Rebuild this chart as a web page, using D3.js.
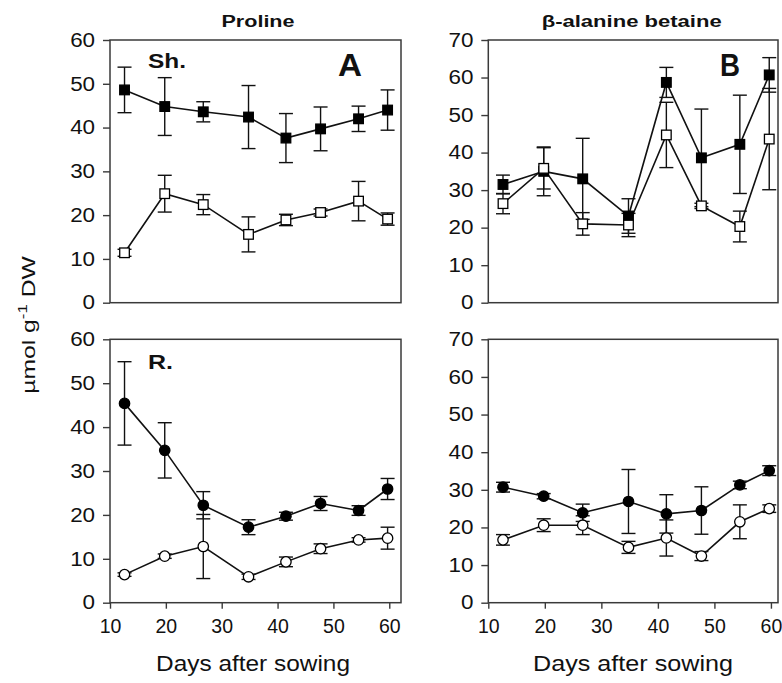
<!DOCTYPE html>
<html><head><meta charset="utf-8">
<script src="https://cdn.jsdelivr.net/npm/d3@7"></script>
<style>body{margin:0;background:#fff} svg{display:block}</style>
</head><body>
<svg id="c" width="782" height="683"></svg>
<script>
// ---- data ----
const days = [12.6, 19.8, 26.7, 34.8, 41.5, 47.7, 54.5, 59.7];
const dayTicks = [10, 20, 30, 40, 50, 60];
const prolineTicks = [0, 10, 20, 30, 40, 50, 60];
const betaineTicks = [0, 10, 20, 30, 40, 50, 60, 70];

const shootProlineFilled    = [48.6, 44.8, 43.6, 42.4, 37.6, 39.7, 42.0, 44.0];
const shootProlineFilledErr = [5.2, 6.6, 2.3, 7.2, 5.6, 5.0, 2.9, 4.6];
const shootProlineOpen      = [11.4, 24.9, 22.4, 15.6, 18.9, 20.6, 23.2, 19.1];
const shootProlineOpenErr   = [0.8, 4.2, 2.3, 4.0, 1.3, 0.8, 4.5, 1.4];

const shootBetaineFilled    = [31.5, 35.0, 33.0, 23.1, 58.7, 38.6, 42.2, 60.7];
const shootBetaineFilledErr = [2.5, 6.5, 10.8, 4.6, 4.0, 13.0, 13.1, 4.6];
const shootBetaineOpen      = [26.4, 35.8, 21.0, 20.7, 44.7, 25.8, 20.3, 43.6];
const shootBetaineOpenErr   = [2.7, 5.5, 3.0, 3.1, 8.7, 0.7, 4.1, 13.5];

const rootProlineFilled     = [45.4, 34.7, 22.2, 17.2, 19.7, 22.6, 21.0, 25.9];
const rootProlineFilledErr  = [9.5, 6.3, 3.1, 1.7, 0.9, 1.6, 1.1, 2.4];
const rootProlineOpen       = [6.4, 10.6, 12.8, 5.9, 9.3, 12.3, 14.3, 14.7];
const rootProlineOpenErr    = [0.4, 0.5, 7.3, 0.6, 1.1, 1.1, 0.5, 2.5];

const rootBetaineFilled     = [30.7, 28.3, 23.9, 26.9, 23.6, 24.5, 31.3, 35.1];
const rootBetaineFilledErr  = [1.3, 0.7, 2.3, 8.5, 5.1, 6.3, 1.0, 1.3];
const rootBetaineOpen       = [16.7, 20.6, 20.6, 14.7, 17.2, 12.4, 21.5, 25.0];
const rootBetaineOpenErr    = [1.4, 1.7, 2.5, 1.6, 4.8, 1.2, 4.5, 1.0];

// ---- layout ----
const svg = d3.select("#c");
const FONT = "Liberation Sans, Arial, Helvetica, sans-serif";
const LEFT = {x0: 110, x1: 401, xmax: 62.1};
const RIGHT = {x0: 488.3, x1: 778, xmax: 61.25};
const TOP = {y0: 40, y1: 302.7};
const BOT = {y0: 339.3, y1: 602.7};

const panels = [
  {col: LEFT, row: TOP, ymax: 60, ticks: prolineTicks, marker: "square",
   filled: shootProlineFilled, filledErr: shootProlineFilledErr, open: shootProlineOpen, openErr: shootProlineOpenErr, xaxis: false},
  {col: RIGHT, row: TOP, ymax: 70, ticks: betaineTicks, marker: "square",
   filled: shootBetaineFilled, filledErr: shootBetaineFilledErr, open: shootBetaineOpen, openErr: shootBetaineOpenErr, xaxis: false},
  {col: LEFT, row: BOT, ymax: 60, ticks: prolineTicks, marker: "circle",
   filled: rootProlineFilled, filledErr: rootProlineFilledErr, open: rootProlineOpen, openErr: rootProlineOpenErr, xaxis: true},
  {col: RIGHT, row: BOT, ymax: 70, ticks: betaineTicks, marker: "circle",
   filled: rootBetaineFilled, filledErr: rootBetaineFilledErr, open: rootBetaineOpen, openErr: rootBetaineOpenErr, xaxis: true},
];

const FRAME = "#3a3a3a";

panels.forEach(p => {
  const x = d3.scaleLinear().domain([10, p.col.xmax]).range([p.col.x0, p.col.x1]);
  const y = d3.scaleLinear().domain([0, p.ymax]).range([p.row.y1, p.row.y0]);
  const g = svg.append("g");

  // y axis
  const ya = g.append("g").attr("transform", `translate(${p.col.x0},0)`)
    .call(d3.axisLeft(y).tickValues(p.ticks).tickSize(7).tickPadding(6).tickSizeOuter(0));
  ya.select(".domain").remove();
  ya.selectAll("line").attr("stroke", FRAME).attr("stroke-width", 1.4);
  ya.selectAll("text").attr("font-family", FONT).attr("font-size", 19.5).attr("fill", "#111")
    .attr("transform", "scale(1.15,1)");

  if (p.xaxis) {
    const xa = g.append("g").attr("transform", `translate(0,${p.row.y1})`)
      .call(d3.axisBottom(x).tickValues(dayTicks).tickSize(6).tickPadding(5).tickSizeOuter(0));
    xa.select(".domain").remove();
    xa.selectAll("line").attr("stroke", FRAME).attr("stroke-width", 1.4);
    xa.selectAll("text").attr("font-family", FONT).attr("font-size", 19.5).attr("fill", "#111")
      .attr("dy", "1em");
  }

  // frame
  g.append("rect").attr("x", p.col.x0).attr("y", p.row.y0)
    .attr("width", p.col.x1 - p.col.x0).attr("height", p.row.y1 - p.row.y0)
    .attr("fill", "none").attr("stroke", FRAME).attr("stroke-width", 1.5);

  const line = d3.line().x((d, i) => x(days[i])).y(d => y(d));
  const series = [
    {vals: p.filled, err: p.filledErr, fill: "#000"},
    {vals: p.open, err: p.openErr, fill: "#fff"},
  ];
  series.forEach(s => {
    g.append("path").datum(s.vals).attr("d", line)
      .attr("fill", "none").attr("stroke", "#111").attr("stroke-width", 1.6);
  });
  series.forEach(s => {
    const eb = g.append("g").attr("stroke", "#111").attr("stroke-width", 1.4);
    s.vals.forEach((v, i) => {
      const cx = x(days[i]), top = y(v + s.err[i]), bot = y(v - s.err[i]);
      eb.append("line").attr("x1", cx).attr("x2", cx).attr("y1", top).attr("y2", bot);
      eb.append("line").attr("x1", cx - 7).attr("x2", cx + 7).attr("y1", top).attr("y2", top);
      eb.append("line").attr("x1", cx - 7).attr("x2", cx + 7).attr("y1", bot).attr("y2", bot);
    });
  });
  series.forEach(s => {
    const mg = g.append("g");
    s.vals.forEach((v, i) => {
      const cx = x(days[i]), cy = y(v);
      if (p.marker === "square") {
        mg.append("rect").attr("x", cx - 4.8).attr("y", cy - 4.8).attr("width", 9.6).attr("height", 9.6)
          .attr("fill", s.fill).attr("stroke", "#000").attr("stroke-width", 1.3);
      } else {
        mg.append("circle").attr("cx", cx).attr("cy", cy).attr("r", 5.2)
          .attr("fill", s.fill).attr("stroke", "#000").attr("stroke-width", 1.3);
      }
    });
  });
});

// ---- texts ----
function txt(xp, yp, s, size, weight, anchor, len) {
  const t = svg.append("text").attr("x", xp).attr("y", yp).text(s)
    .attr("font-family", FONT).attr("font-size", size).attr("font-weight", weight)
    .attr("text-anchor", anchor).attr("fill", "#111");
  if (len) t.attr("textLength", len).attr("lengthAdjust", "spacingAndGlyphs");
  return t;
}
txt(258, 26.5, "Proline", 16, "bold", "middle", 73);
txt(631.7, 26.5, "β-alanine betaine", 16, "bold", "middle", 180);
txt(148, 68, "Sh.", 20, "bold", "start", 38);
txt(148, 369, "R.", 20, "bold", "start", 25);
txt(338, 76, "A", 31, "bold", "start", 24);
txt(720, 76, "B", 31, "bold", "start", 20);
txt(253, 671, "Days after sowing", 22, "normal", "middle", 194);
txt(633, 671, "Days after sowing", 22, "normal", "middle", 200);

// y axis label
const yl = svg.append("text")
  .attr("transform", "translate(35,325) rotate(-90) scale(1.3,1)")
  .attr("text-anchor", "middle").attr("font-family", FONT).attr("font-size", 19).attr("fill", "#111");
yl.append("tspan").text("µmol g");
yl.append("tspan").text("-1").attr("font-size", 13).attr("dy", -8);
yl.append("tspan").text(" DW").attr("dy", 8);
</script>
</body></html>
